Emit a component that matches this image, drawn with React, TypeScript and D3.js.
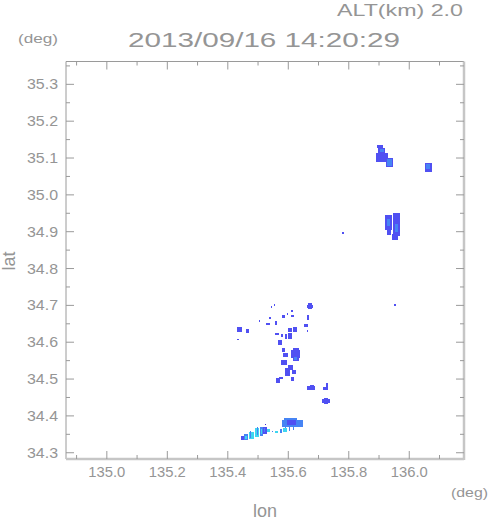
import React from 'react';
import * as d3 from 'd3';

// radar echo boxes: [lonW, lonE, latS, latN, level]
type Echo = [number, number, number, number, number];

const titleTime = '2013/09/16 14:20:29';
const altLabel = 'ALT(km) 2.0';

const lonDomain = [134.865, 136.181];
const latDomain = [34.283, 35.362];
const lonMajor = [135.0, 135.2, 135.4, 135.6, 135.8, 136.0];
const lonMinor = [134.9, 135.1, 135.3, 135.5, 135.7, 135.9, 136.1];
const latMajor = [34.3, 34.4, 34.5, 34.6, 34.7, 34.8, 34.9, 35.0, 35.1, 35.2, 35.3];
const latMinor = [34.35, 34.45, 34.55, 34.65, 34.75, 34.85, 34.95, 35.05, 35.15, 35.25, 35.35];

// 0 dark, 1 blue, 2 light blue, 3 cyan
const levelColors = ['#3c2fd2', '#5050f2', '#4684f4', '#3fd6f0'];

const northEchoes: Echo[] = [
  [135.894, 135.913, 35.127, 35.135, 1],
  [135.897, 135.920, 35.113, 35.127, 1],
  [135.904, 135.916, 35.116, 35.124, 2],
  [135.890, 135.930, 35.089, 35.113, 1],
  [135.923, 135.946, 35.075, 35.100, 1],
  [135.927, 135.942, 35.079, 35.096, 2],
  [136.052, 136.075, 35.062, 35.086, 1],
  [136.054, 136.068, 35.070, 35.084, 2],
  [135.920, 135.943, 34.905, 34.945, 1],
  [135.926, 135.936, 34.915, 34.935, 2],
  [135.927, 135.940, 34.892, 34.905, 1],
  [135.946, 135.970, 34.889, 34.951, 1],
  [135.953, 135.963, 34.900, 34.920, 2],
  [135.943, 135.963, 34.877, 34.895, 1],
  [135.779, 135.785, 34.893, 34.898, 1],
];

const middleEchoes: Echo[] = [
  [135.951, 135.957, 34.697, 34.704, 1],
  [135.543, 135.547, 34.693, 34.697, 1],
  [135.552, 135.557, 34.698, 34.703, 1],
  [135.666, 135.678, 34.690, 34.706, 1],
  [135.662, 135.682, 34.694, 34.701, 1],
  [135.610, 135.616, 34.683, 34.688, 1],
  [135.579, 135.589, 34.665, 34.674, 1],
  [135.609, 135.619, 34.668, 34.674, 1],
  [135.595, 135.598, 34.675, 34.678, 1],
  [135.536, 135.543, 34.663, 34.668, 1],
  [135.662, 135.669, 34.660, 34.674, 1],
  [135.502, 135.505, 34.656, 34.659, 1],
  [135.527, 135.540, 34.646, 34.652, 1],
  [135.556, 135.563, 34.646, 34.657, 1],
  [135.652, 135.665, 34.641, 34.649, 1],
  [135.661, 135.664, 34.628, 34.633, 1],
  [135.431, 135.447, 34.628, 34.641, 1],
  [135.460, 135.470, 34.625, 34.636, 1],
  [135.431, 135.438, 34.606, 34.609, 1],
  [135.599, 135.612, 34.628, 34.638, 1],
  [135.616, 135.629, 34.628, 34.641, 1],
  [135.556, 135.569, 34.619, 34.625, 1],
  [135.589, 135.596, 34.609, 34.622, 1],
  [135.599, 135.612, 34.609, 34.625, 1],
  [135.576, 135.583, 34.614, 34.622, 1],
  [135.566, 135.579, 34.592, 34.606, 1],
  [135.579, 135.589, 34.573, 34.584, 1],
  [135.583, 135.599, 34.560, 34.571, 1],
  [135.615, 135.636, 34.550, 34.584, 1],
  [135.608, 135.639, 34.556, 34.578, 1],
  [135.620, 135.628, 34.552, 34.560, 2],
  [135.576, 135.596, 34.538, 34.552, 1],
  [135.599, 135.616, 34.524, 34.538, 1],
  [135.589, 135.606, 34.508, 34.530, 1],
  [135.612, 135.626, 34.514, 34.524, 1],
  [135.560, 135.573, 34.489, 34.503, 1],
  [135.570, 135.583, 34.500, 34.505, 1],
  [135.609, 135.619, 34.495, 34.505, 1],
  [135.662, 135.688, 34.470, 34.480, 1],
  [135.672, 135.684, 34.478, 34.484, 1],
  [135.725, 135.731, 34.475, 34.489, 1],
  [135.715, 135.731, 34.470, 34.478, 1],
  [135.712, 135.738, 34.434, 34.446, 1],
  [135.717, 135.732, 34.432, 34.448, 1],
];

const southEchoes: Echo[] = [
  [135.585, 135.630, 34.387, 34.393, 2],
  [135.579, 135.648, 34.370, 34.389, 2],
  [135.596, 135.625, 34.374, 34.388, 1],
  [135.589, 135.592, 34.356, 34.370, 2],
  [135.602, 135.606, 34.358, 34.370, 2],
  [135.615, 135.619, 34.362, 34.370, 2],
  [135.444, 135.454, 34.334, 34.345, 1],
  [135.454, 135.467, 34.334, 34.352, 2],
  [135.458, 135.464, 34.338, 34.346, 3],
  [135.470, 135.487, 34.337, 34.357, 3],
  [135.474, 135.478, 34.340, 34.360, 2],
  [135.490, 135.503, 34.343, 34.367, 3],
  [135.496, 135.499, 34.348, 34.370, 2],
  [135.506, 135.516, 34.346, 34.370, 2],
  [135.509, 135.512, 34.350, 34.365, 3],
  [135.516, 135.528, 34.351, 34.370, 1],
  [135.520, 135.524, 34.355, 34.366, 2],
  [135.530, 135.540, 34.357, 34.365, 3],
  [135.546, 135.550, 34.355, 34.360, 2],
  [135.556, 135.566, 34.354, 34.360, 3],
  [135.572, 135.579, 34.354, 34.365, 2],
  [135.583, 135.596, 34.356, 34.368, 3],
  [135.523, 135.527, 34.374, 34.377, 0],
];

const W = 491;
const H = 521;
const plot = { left: 66, right: 464, top: 61.5, bottom: 459 };
const textColor = '#959595';
const font = 'Liberation Sans, DejaVu Sans, sans-serif';

export default function App() {
  const x = d3.scaleLinear().domain(lonDomain).range([plot.left, plot.right]);
  const y = d3.scaleLinear().domain(latDomain).range([plot.bottom, plot.top]);
  const echoes = [...northEchoes, ...middleEchoes, ...southEchoes];

  return (
    <svg width={W} height={H} style={{ position: 'absolute', left: 0, top: 0 }} fontFamily={font}>
      <rect width={W} height={H} fill="#fff" />

      <g>
        {echoes.map((e, i) => (
          <rect key={i} x={x(e[0])} y={y(e[3])} width={x(e[1]) - x(e[0])}
            height={y(e[2]) - y(e[3])} fill={levelColors[e[4]]} shapeRendering="crispEdges" />
        ))}
      </g>

      {/* frame */}
      <line x1={plot.left} x2={plot.right} y1={plot.top} y2={plot.top} stroke="#9a9a9a" />
      <line x1={plot.left} x2={plot.left} y1={plot.top} y2={plot.bottom} stroke="#9a9a9a" />
      <line x1={plot.right} x2={plot.right} y1={plot.top} y2={plot.bottom + 1} stroke="#c6c6c6" strokeWidth={2.5} />
      <line x1={plot.left} x2={plot.right} y1={plot.bottom} y2={plot.bottom} stroke="#c6c6c6" strokeWidth={2.5} />

      {/* ticks */}
      <g stroke="#9a9a9a">
        {lonMajor.map((v) => (
          <g key={'xM' + v}>
            <line x1={x(v)} x2={x(v)} y1={plot.bottom} y2={plot.bottom - 8} />
            <line x1={x(v)} x2={x(v)} y1={plot.top} y2={plot.top + 8} />
          </g>
        ))}
        {lonMinor.map((v) => (
          <g key={'xm' + v}>
            <line x1={x(v)} x2={x(v)} y1={plot.bottom} y2={plot.bottom - 4} />
            <line x1={x(v)} x2={x(v)} y1={plot.top} y2={plot.top + 4} />
          </g>
        ))}
        {latMajor.map((v) => (
          <g key={'yM' + v}>
            <line x1={plot.left} x2={plot.left + 8} y1={y(v)} y2={y(v)} />
            <line x1={plot.right} x2={plot.right - 8} y1={y(v)} y2={y(v)} />
          </g>
        ))}
        {latMinor.map((v) => (
          <g key={'ym' + v}>
            <line x1={plot.left} x2={plot.left + 4} y1={y(v)} y2={y(v)} />
            <line x1={plot.right} x2={plot.right - 4} y1={y(v)} y2={y(v)} />
          </g>
        ))}
      </g>

      {/* tick labels */}
      <g fill={textColor} fontSize={15}>
        {lonMajor.map((v) => (
          <text key={'xl' + v} x={x(v)} y={477} textAnchor="middle" textLength={37} lengthAdjust="spacingAndGlyphs">
            {d3.format('.1f')(v)}
          </text>
        ))}
        {latMajor.map((v) => (
          <text key={'yl' + v} x={58} y={y(v) + 5} textAnchor="end" textLength={31} lengthAdjust="spacingAndGlyphs">
            {d3.format('.1f')(v)}
          </text>
        ))}
      </g>

      {/* titles */}
      <text x={337} y={16} fill={textColor} fontSize={17} textLength={126} lengthAdjust="spacingAndGlyphs">{altLabel}</text>
      <text x={128} y={47} fill={textColor} fontSize={20} textLength={272} lengthAdjust="spacingAndGlyphs">{titleTime}</text>
      <text x={18} y={43} fill={textColor} fontSize={13} textLength={40} lengthAdjust="spacingAndGlyphs">(deg)</text>
      <text x={451} y={497} fill={textColor} fontSize={13} textLength={37} lengthAdjust="spacingAndGlyphs">(deg)</text>
      <text x={265} y={517} fill={textColor} fontSize={18} textAnchor="middle">lon</text>
      <text transform="translate(15,261) rotate(-90)" fill={textColor} fontSize={18} textAnchor="middle">lat</text>
    </svg>
  );
}
